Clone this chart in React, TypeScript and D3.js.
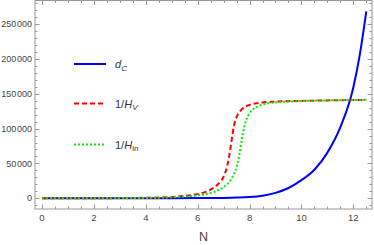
import React, { useRef, useEffect } from 'react';
import * as d3 from 'd3';

// d_C
const dcN = [0, 1, 2, 3, 4, 5, 6, 6.5, 7, 7.5, 8, 8.5, 9, 9.5, 10, 10.5, 11, 11.5, 12, 12.25, 12.5];
const dcVal = [0, 0, 10, 30, 60, 120, 250, 400, 600, 1000, 1800, 3700, 7800, 14800, 26000, 41000, 65500, 102000, 159000, 206000, 268000];

// 1/H_V
const hvN = [0, 1, 2, 3, 4, 4.5, 5, 5.5, 6, 6.25, 6.5, 6.75, 7, 7.1, 7.2, 7.3, 7.4, 7.5, 7.65, 7.8, 8, 8.25, 8.5, 9, 10, 11, 12, 12.5];
const hvVal = [50, 100, 160, 300, 700, 1100, 2000, 3500, 6000, 8500, 12500, 19000, 31000, 41000, 57000, 81000, 104000, 116500, 125500, 130500, 134000, 136200, 137500, 138700, 139700, 140400, 141000, 141200];

// 1/H_in
const hinN = [0, 1, 2, 3, 4, 5, 5.5, 6, 6.5, 6.75, 7, 7.25, 7.4, 7.5, 7.6, 7.7, 7.8, 7.9, 8, 8.25, 8.5, 9, 10, 11, 12, 12.5];
const hinVal = [40, 80, 120, 250, 550, 1500, 2700, 4300, 7500, 11000, 16000, 25000, 35000, 45000, 61000, 84000, 103000, 115000, 122000, 130500, 134500, 137500, 139500, 140400, 141000, 141200];

const xTicks = [0, 2, 4, 6, 8, 10, 12];
const yTicks = [0, 50000, 100000, 150000, 200000, 250000];
const yTickLabels = ['0', '50\u200a000', '100\u200a000', '150\u200a000', '200\u200a000', '250\u200a000'];

const W = 374;
const H = 245;
const left = 35, right = 372, top = 0.5, bottom = 209;

const App = () => {
  const svgRef = useRef<SVGSVGElement>(null);

  useEffect(() => {
    const svg = d3.select(svgRef.current);
    svg.selectAll('*').remove();

    const x = d3.scaleLinear().domain([-0.27, 12.72]).range([left, right]);
    const y = d3.scaleLinear().domain([-15350, 283700]).range([bottom, top]);

    const frameColor = '#999';
    const textColor = '#444';

    // frame
    svg.append('rect')
      .attr('x', left).attr('y', top)
      .attr('width', right - left).attr('height', bottom - top)
      .attr('fill', 'none').attr('stroke', frameColor).attr('stroke-width', 1);

    // x ticks (bottom and top)
    const xMinor = d3.range(0, 12.75, 0.5);
    xMinor.forEach(v => {
      const major = v % 2 === 0;
      const len = major ? 4.5 : 2.5;
      const px = Math.round(x(v)) + 0.5;
      svg.append('line').attr('x1', px).attr('x2', px).attr('y1', bottom).attr('y2', bottom - len)
        .attr('stroke', frameColor);
      svg.append('line').attr('x1', px).attr('x2', px).attr('y1', top).attr('y2', top + len)
        .attr('stroke', frameColor);
    });

    // y ticks (left and right)
    const yMinor = d3.range(-10000, 280001, 10000);
    yMinor.forEach(v => {
      const major = v % 50000 === 0;
      const len = major ? 4.5 : 2.5;
      const py = Math.round(y(v)) + 0.5;
      svg.append('line').attr('x1', left).attr('x2', left + len).attr('y1', py).attr('y2', py)
        .attr('stroke', frameColor);
      svg.append('line').attr('x1', right).attr('x2', right - len).attr('y1', py).attr('y2', py)
        .attr('stroke', frameColor);
    });

    const font = '"Liberation Sans", Arial, sans-serif';

    svg.append('g').selectAll('text').data(xTicks).join('text')
      .attr('x', d => x(d)).attr('y', 221)
      .attr('text-anchor', 'middle')
      .attr('font-family', font).attr('font-size', 9.5).attr('fill', textColor)
      .text(d => String(d));

    svg.append('g').selectAll('text').data(yTicks).join('text')
      .attr('x', 32).attr('y', d => y(d) + 3.2)
      .attr('text-anchor', 'end')
      .attr('font-family', font).attr('font-size', 9).attr('fill', textColor)
      .text((d, i) => yTickLabels[i]);

    svg.append('text')
      .attr('x', (left + right) / 2).attr('y', 241)
      .attr('text-anchor', 'middle')
      .attr('font-family', font).attr('font-size', 12.5).attr('fill', textColor)
      .text('N');

    const line = d3.line<[number, number]>()
      .x(d => x(d[0]))
      .y(d => y(d[1]))
      .curve(d3.curveMonotoneX);

    const series = [
      { n: dcN, v: dcVal, color: '#0000ff', dash: null },
      { n: hvN, v: hvVal, color: '#ff0000', dash: '5,3' },
      { n: hinN, v: hinVal, color: '#00ee00', dash: '2,2' }
    ];

    series.forEach(s => {
      const pts = s.n.map((n, i) => [n, s.v[i]] as [number, number]);
      svg.append('path')
        .attr('d', line(pts))
        .attr('fill', 'none')
        .attr('stroke', s.color)
        .attr('stroke-width', 2)
        .attr('stroke-dasharray', s.dash);
    });

    // legend
    const legend = [
      { y: 64, color: '#0000ff', dash: null },
      { y: 103.5, color: '#ff0000', dash: '5,3' },
      { y: 144.5, color: '#00ee00', dash: '2,2' }
    ];
    legend.forEach(l => {
      svg.append('line')
        .attr('x1', 74).attr('x2', 106).attr('y1', l.y).attr('y2', l.y)
        .attr('stroke', l.color).attr('stroke-width', 2)
        .attr('stroke-dasharray', l.dash);
    });

    const t1 = svg.append('text').attr('x', 115).attr('y', 68)
      .attr('font-family', font).attr('font-size', 11).attr('fill', '#333');
    t1.append('tspan').attr('font-style', 'italic').text('d');
    t1.append('tspan').attr('font-style', 'italic').attr('font-size', 8).attr('dy', 2.5).text('C');

    const t2 = svg.append('text').attr('x', 115).attr('y', 107.5)
      .attr('font-family', font).attr('font-size', 11).attr('fill', '#333');
    t2.append('tspan').text('1/');
    t2.append('tspan').attr('font-style', 'italic').text('H');
    t2.append('tspan').attr('font-style', 'italic').attr('font-size', 8).attr('dy', 2.5).text('V');

    const t3 = svg.append('text').attr('x', 115).attr('y', 148.5)
      .attr('font-family', font).attr('font-size', 11).attr('fill', '#333');
    t3.append('tspan').text('1/');
    t3.append('tspan').attr('font-style', 'italic').text('H');
    t3.append('tspan').attr('font-size', 8).attr('dy', 2.5).text('in');
  }, []);

  return (
    <svg ref={svgRef} width={W} height={H}
      style={{ position: 'absolute', left: 0, top: 0, background: '#fff' }} />
  );
};

export default App;
